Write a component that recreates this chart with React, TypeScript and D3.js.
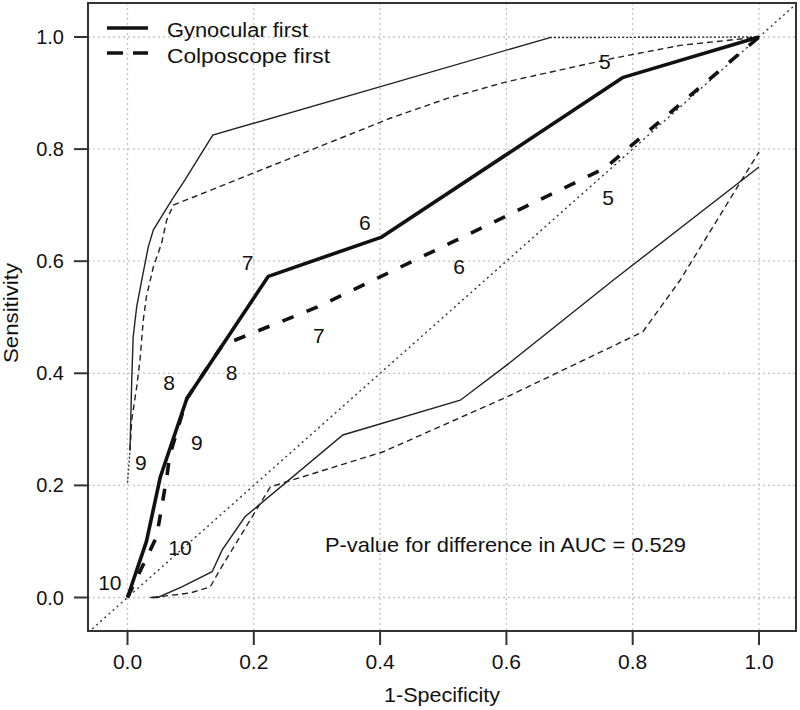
import * as d3 from "d3";

type Pt = [number, number];

const ticks = [0, 0.2, 0.4, 0.6, 0.8, 1.0];

// main ROC curves (1-specificity, sensitivity)
const gynocular: Pt[] = [
  [0, 0], [0.03, 0.1], [0.052, 0.215], [0.094, 0.355], [0.223, 0.573],
  [0.4025, 0.643], [0.785, 0.928], [1, 1],
];
const colposcope: Pt[] = [
  [0, 0], [0.046, 0.108], [0.062, 0.213], [0.067, 0.254], [0.094, 0.355],
  [0.15, 0.45], [0.3, 0.518], [0.52, 0.637], [0.756, 0.766], [1, 1],
];

// confidence bounds
const gynoUpper: Pt[] = [
  [0.004, 0.263], [0.0067, 0.388], [0.009, 0.465], [0.0146, 0.519], [0.0225, 0.566],
  [0.033, 0.626], [0.041, 0.656], [0.07, 0.709], [0.091, 0.745], [0.135, 0.825],
  [0.669, 0.999],
];
const gynoLower: Pt[] = [
  [0.036, 0], [0.048, 0], [0.086, 0.019], [0.134, 0.046], [0.15, 0.085],
  [0.186, 0.144], [0.341, 0.29], [0.527, 0.352], [0.601, 0.415], [0.769, 0.566],
  [1, 0.768],
];
const colpoUpper: Pt[] = [
  [0.004, 0.263], [0.0067, 0.317], [0.0146, 0.376], [0.0198, 0.424], [0.025, 0.495],
  [0.03, 0.537], [0.041, 0.59], [0.054, 0.632], [0.062, 0.673], [0.0725, 0.7],
  [0.416, 0.855], [0.505, 0.89], [0.6, 0.92], [0.769, 0.962], [0.875, 0.985], [1, 1],
];
const colpoLower: Pt[] = [
  [0.039, 0], [0.099, 0.008], [0.131, 0.019], [0.146, 0.049], [0.226, 0.197],
  [0.262, 0.21], [0.405, 0.26], [0.601, 0.358], [0.816, 0.474], [0.875, 0.566],
  [1, 0.795],
];
const dottedBits: Pt[][] = [
  [[0, 0.205], [0.004, 0.263]],
  [[0.669, 0.999], [1, 1]],
];

// cut-off annotations: label, x, y (data units)
const gynoCuts: [string, number, number][] = [
  ["10", -0.028, 0.026], ["9", 0.021, 0.241], ["8", 0.066, 0.383],
  ["7", 0.19, 0.597], ["6", 0.376, 0.67], ["5", 0.756, 0.956],
];
const colpoCuts: [string, number, number][] = [
  ["10", 0.083, 0.09], ["9", 0.11, 0.277], ["8", 0.165, 0.402],
  ["7", 0.303, 0.467], ["6", 0.525, 0.59], ["5", 0.761, 0.714],
];

const seriesNames = ["Gynocular first", "Colposcope first"];
const pText = "P-value for difference in AUC = 0.529";

const W = 800;
const H = 710;
const BOX = { left: 88, right: 796, top: 3, bottom: 631 };
const FONT = "'Liberation Sans', Arial, Helvetica, sans-serif";

export default function App() {
  const x = d3.scaleLinear().domain([0, 1]).range([127.5, 759]);
  const y = d3.scaleLinear().domain([0, 1]).range([597.5, 37]);
  const line = d3
    .line<Pt>()
    .x((d) => x(d[0]))
    .y((d) => y(d[1]));

  const lo = Math.min(x.invert(BOX.left), y.invert(BOX.bottom));
  const hi = Math.max(x.invert(BOX.right), y.invert(BOX.top));
  const diag: Pt[] = [[lo, lo], [hi, hi]];

  const thin = { fill: "none", stroke: "#222", strokeWidth: 1.4 };
  const thick = { fill: "none", stroke: "#111", strokeWidth: 3.6 };

  return (
    <svg
      width={W}
      height={H}
      viewBox={`0 0 ${W} ${H}`}
      style={{ position: "absolute", left: 0, top: 0, background: "#fff" }}
      fontFamily={FONT}
    >
      <defs>
        <clipPath id="plot">
          <rect x={BOX.left} y={BOX.top} width={BOX.right - BOX.left} height={BOX.bottom - BOX.top} />
        </clipPath>
      </defs>
      <rect width={W} height={H} fill="#fff" />

      {/* grid */}
      <g stroke="#c4c4c4" strokeWidth={1.3} strokeDasharray="2,3">
        {ticks.map((t) => (
          <line key={`v${t}`} x1={x(t)} x2={x(t)} y1={BOX.top} y2={BOX.bottom} />
        ))}
        {ticks.map((t) => (
          <line key={`h${t}`} x1={BOX.left} x2={BOX.right} y1={y(t)} y2={y(t)} />
        ))}
      </g>

      <g clipPath="url(#plot)">
        <path d={line(diag) ?? ""} fill="none" stroke="#333" strokeWidth={1.4} strokeDasharray="2,3.5" />

        {dottedBits.map((seg, i) => (
          <path key={i} d={line(seg) ?? ""} fill="none" stroke="#333" strokeWidth={1.4} strokeDasharray="2,2" />
        ))}
        <path d={line(gynoUpper) ?? ""} {...thin} />
        <path d={line(gynoLower) ?? ""} {...thin} />
        <path d={line(colpoUpper) ?? ""} {...thin} strokeDasharray="6,4" />
        <path d={line(colpoLower) ?? ""} {...thin} strokeDasharray="6,4" />

        <path d={line(gynocular) ?? ""} {...thick} strokeLinejoin="round" />
        <path d={line(colposcope) ?? ""} {...thick} strokeDasharray="12,14" />
      </g>

      {/* cut-off labels */}
      <g fontSize={21} fill="#111" textAnchor="middle">
        {gynoCuts.map(([l, a, b]) => (
          <text key={`g${l}`} x={x(a)} y={y(b)} dy="0.36em">{l}</text>
        ))}
        {colpoCuts.map(([l, a, b]) => (
          <text key={`c${l}`} x={x(a)} y={y(b)} dy="0.36em">{l}</text>
        ))}
      </g>

      {/* legend */}
      <g>
        <line x1={107} x2={148} y1={28} y2={28} stroke="#111" strokeWidth={3.6} />
        <line x1={107} x2={148} y1={53} y2={53} stroke="#111" strokeWidth={3.6} strokeDasharray="16,10" />
        <text x={167} y={36.5} fontSize={20} fill="#111" textLength={141} lengthAdjust="spacingAndGlyphs">
          {seriesNames[0]}
        </text>
        <text x={167} y={63} fontSize={20} fill="#111" textLength={163} lengthAdjust="spacingAndGlyphs">
          {seriesNames[1]}
        </text>
      </g>

      <text x={325} y={551.5} fontSize={21} fill="#111" textLength={361} lengthAdjust="spacingAndGlyphs">
        {pText}
      </text>

      {/* box */}
      <rect
        x={BOX.left}
        y={BOX.top}
        width={BOX.right - BOX.left}
        height={BOX.bottom - BOX.top}
        fill="none"
        stroke="#333"
        strokeWidth={2}
      />

      {/* axes */}
      <g stroke="#333" strokeWidth={2}>
        {ticks.map((t) => (
          <line key={`xt${t}`} x1={x(t)} x2={x(t)} y1={BOX.bottom} y2={BOX.bottom + 14} />
        ))}
        {ticks.map((t) => (
          <line key={`yt${t}`} x1={BOX.left - 14} x2={BOX.left} y1={y(t)} y2={y(t)} />
        ))}
      </g>
      <g fontSize={21} fill="#111">
        {ticks.map((t) => (
          <text key={`xl${t}`} x={x(t)} y={669} textAnchor="middle">{t.toFixed(1)}</text>
        ))}
        {ticks.map((t) => (
          <text key={`yl${t}`} x={64} y={y(t)} dy="0.35em" textAnchor="end" fontSize={20}>
            {t.toFixed(1)}
          </text>
        ))}
      </g>

      <text x={442} y={702} fontSize={20} fill="#111" textAnchor="middle" textLength={116} lengthAdjust="spacingAndGlyphs">
        1-Specificity
      </text>
      <text
        transform={`translate(18,313) rotate(-90)`}
        fontSize={20}
        fill="#111"
        textAnchor="middle"
        textLength={100}
        lengthAdjust="spacingAndGlyphs"
      >
        Sensitivity
      </text>
    </svg>
  );
}
